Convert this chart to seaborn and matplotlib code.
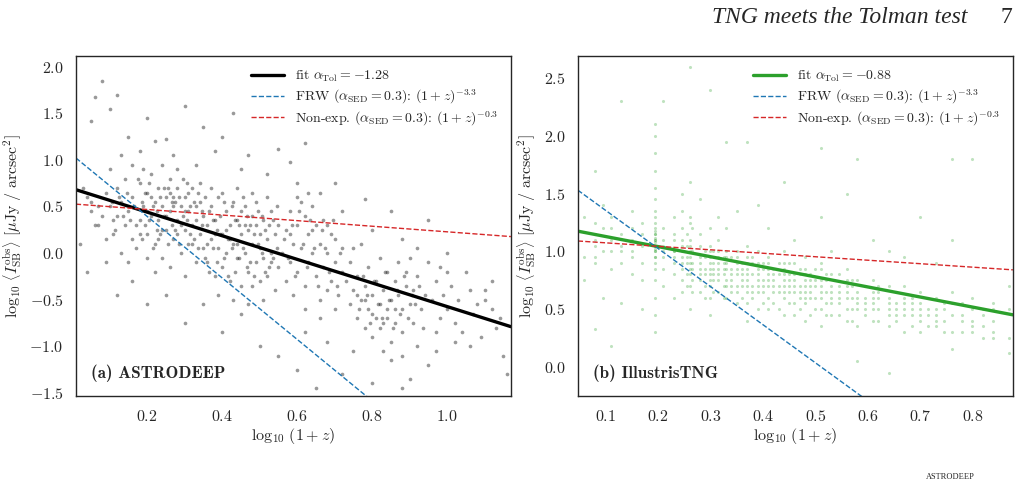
import numpy as np
import pandas as pd
import matplotlib
matplotlib.use("Agg")
import matplotlib.pyplot as plt
import seaborn as sns

# ---- panel (a) ASTRODEEP: points ----
astro_x = [0.08, 0.06, 0.12, 0.10, 0.20, 0.30, 0.43, 0.35, 0.05, 0.15, 0.25, 0.40, 0.55, 0.62, 0.47, 0.58, 0.70, 0.78, 0.85, 0.95,
           0.88, 1.00, 1.05, 1.10, 1.12, 1.15, 1.16, 1.02, 0.95, 0.90, 0.88, 0.80, 0.72, 0.65, 0.60, 0.55, 0.50, 0.40, 0.30, 0.20,
           0.12, 0.04, 0.02, 0.03, 0.05, 0.07, 0.10, 0.13, 0.18, 0.22, 0.27, 0.33, 0.38, 0.45, 0.52, 0.60, 0.66, 0.72, 0.80, 0.92,
           0.98, 1.08, 1.13, 1.06, 0.97, 0.85, 0.75, 0.68, 0.62, 0.45, 0.35, 0.25, 0.16, 0.09,
           0.15, 0.16, 0.17, 0.18, 0.19, 0.20, 0.20, 0.21, 0.21, 0.22, 0.22, 0.23, 0.23, 0.24, 0.24, 0.25, 0.25, 0.26, 0.26, 0.27,
           0.27, 0.28, 0.28, 0.29, 0.29, 0.30, 0.30, 0.31, 0.31, 0.32, 0.32, 0.33, 0.33, 0.34, 0.34, 0.35, 0.35, 0.19, 0.24, 0.28,
           0.17, 0.22, 0.26, 0.30, 0.18, 0.20, 0.23, 0.25, 0.27, 0.29, 0.31, 0.33, 0.21, 0.24, 0.26, 0.28, 0.30, 0.32, 0.34, 0.14,
           0.13, 0.12, 0.11, 0.10, 0.09, 0.08, 0.07, 0.06, 0.12, 0.14, 0.16, 0.13, 0.11, 0.15, 0.18, 0.20, 0.09, 0.05, 0.04, 0.16,
           0.36, 0.36, 0.37, 0.37, 0.38, 0.38, 0.39, 0.39, 0.40, 0.40, 0.41, 0.41, 0.42, 0.42, 0.43, 0.43, 0.44, 0.44, 0.45, 0.45,
           0.46, 0.46, 0.47, 0.47, 0.48, 0.48, 0.49, 0.49, 0.50, 0.50, 0.51, 0.51, 0.52, 0.52, 0.53, 0.53, 0.54, 0.54, 0.55, 0.55,
           0.37, 0.40, 0.44, 0.48, 0.52, 0.39, 0.43, 0.47, 0.51, 0.36, 0.42, 0.46, 0.50, 0.41, 0.45, 0.49, 0.53, 0.38, 0.44, 0.48,
           0.56, 0.57, 0.57, 0.58, 0.58, 0.59, 0.59, 0.60, 0.60, 0.61, 0.61, 0.62, 0.62, 0.63, 0.63, 0.64, 0.64, 0.65, 0.65, 0.66,
           0.66, 0.67, 0.67, 0.68, 0.68, 0.69, 0.69, 0.70, 0.70, 0.71, 0.72, 0.72, 0.60, 0.63, 0.62, 0.66, 0.70, 0.58, 0.64, 0.68,
           0.73, 0.74, 0.74, 0.75, 0.75, 0.76, 0.76, 0.77, 0.77, 0.78, 0.78, 0.79, 0.79, 0.80, 0.80, 0.81, 0.81, 0.82, 0.82, 0.83,
           0.83, 0.84, 0.84, 0.85, 0.85, 0.86, 0.86, 0.87, 0.87, 0.88, 0.88, 0.89, 0.89, 0.90, 0.90, 0.91, 0.91, 0.92, 0.93, 0.94,
           0.95, 0.80, 0.82, 0.84, 0.86, 0.78, 0.76, 0.92, 0.88, 0.83,
           0.96, 0.97, 0.98, 0.99, 1.00, 1.01, 1.02, 1.03, 1.04, 1.06, 1.07, 1.09, 1.10, 1.12, 1.14, 0.97, 1.00,
           0.185, 0.195, 0.205, 0.215, 0.225, 0.235, 0.245, 0.255, 0.265, 0.275, 0.285, 0.295, 0.305, 0.315, 0.325, 0.335, 0.345, 0.355,
           0.185, 0.195, 0.205, 0.215, 0.225, 0.235, 0.245, 0.255, 0.265, 0.275, 0.285, 0.295, 0.305, 0.315, 0.325, 0.335, 0.345, 0.355,
           0.365, 0.375, 0.385, 0.395, 0.405, 0.415, 0.425, 0.435, 0.445, 0.455, 0.465, 0.475, 0.485, 0.495, 0.505, 0.515, 0.525, 0.535, 0.545,
           0.365, 0.375, 0.385, 0.395, 0.405, 0.415, 0.425, 0.435, 0.445, 0.455, 0.465, 0.475, 0.485, 0.495, 0.505, 0.515, 0.525, 0.535, 0.545,
           0.565, 0.575, 0.585, 0.595, 0.605, 0.615, 0.625, 0.635, 0.645, 0.655, 0.665, 0.675, 0.685, 0.695, 0.705, 0.715,
           0.765, 0.775, 0.785, 0.795, 0.805, 0.815, 0.825, 0.835, 0.845, 0.855, 0.865, 0.875, 0.885, 0.895, 0.905, 0.915, 0.925, 0.935,
           0.105, 0.115, 0.125, 0.135, 0.145, 0.155, 0.165, 0.175]
astro_y = [1.85, 1.67, 1.70, 1.55, 1.45, 1.58, 1.50, 1.35, 1.42, 1.25, 1.22, 1.25, 1.12, 1.18, 1.05, 0.98, 0.75, 0.58, 0.45, 0.35,
           0.15, 0.00, -0.20, -0.40, -0.60, -1.10, -1.30, -0.95, -1.20, -1.35, -1.45, -1.40, -1.30, -1.45, -1.25, -1.10, -1.00, -0.85, -0.75, -0.55,
           -0.45, -0.20, 0.10, 0.70, 0.55, 0.30, 0.90, 1.05, 1.10, 1.20, 1.05, 0.95, 1.10, 0.90, 0.85, 0.75, 0.65, 0.45, 0.25, 0.05,
           -0.15, -0.55, -0.80, -1.00, -1.05, -1.15, -1.05, -0.95, -0.85, -0.65, -0.55, -0.45, -0.30, -0.10,
           0.45, 0.60, 0.30, 0.75, 0.50, 0.20, 0.65, 0.40, 0.85, 0.55, 0.10, 0.70, 0.35, 0.50, -0.05, 0.60, 0.25, 0.80, 0.45, 0.15,
           0.60, 0.35, 0.70, 0.50, 0.00, 0.25, 0.60, 0.45, 0.10, 0.70, 0.30, 0.50, -0.10, 0.20, 0.55, 0.40, 0.05, 0.90, 0.95, 0.90,
           0.05, -0.20, -0.15, -0.25, 0.35, 0.45, 0.15, 0.40, 0.50, 0.30, 0.65, 0.35, 0.60, 0.25, 0.65, 0.20, 0.45, 0.10, 0.75, 0.30,
           0.55, 0.40, 0.20, 0.50, 0.65, 0.40, 0.50, 0.30, 0.70, 0.80, 0.15, 0.00, 0.35, -0.10, 0.20, -0.05, 0.15, 0.45, 0.60, 0.95,
           0.30, -0.10, 0.50, 0.15, -0.25, 0.35, 0.60, 0.05, 0.20, -0.15, 0.45, 0.00, 0.30, -0.30, 0.55, 0.10, -0.05, 0.35, 0.20, -0.35,
           0.50, 0.00, 0.25, -0.20, 0.40, 0.10, -0.10, 0.55, 0.20, -0.30, 0.35, -0.05, 0.15, -0.25, 0.45, 0.00, 0.20, -0.40, 0.30, -0.15,
           0.70, 0.65, 0.70, 0.65, 0.60, -0.45, -0.50, -0.55, -0.50, 0.10, 0.15, 0.30, 0.05, 0.25, 0.45, 0.30, -0.10, 0.20, 0.10, -0.35,
           0.00, 0.25, -0.30, 0.45, -0.10, 0.10, -0.45, 0.30, -0.20, 0.55, 0.05, 0.40, -0.35, 0.20, -0.10, 0.50, 0.00, 0.30, -0.25, 0.10,
           -0.50, 0.35, -0.15, 0.00, -0.40, 0.20, -0.30, -0.10, 0.15, -0.45, -0.20, 0.05, 0.60, 0.65, -0.60, -0.70, -0.60, 0.20, 0.25, 0.30,
           -0.30, -0.55, -0.10, -0.40, 0.05, -0.70, -0.25, -0.50, 0.10, -0.35, -0.80, -0.60, -0.15, -0.45, -0.90, -0.30, -0.70, -0.55, -0.05, -0.75,
           -0.40, -0.60, -0.20, -0.95, -0.50, -0.30, -0.75, -0.45, -0.10, -0.60, -0.85, -0.35, -0.20, -0.55, -0.05, -0.40, -0.75, -0.25, -0.60, -0.45,
           -0.10, -0.65, -0.80, -0.70, -0.60, -0.50, -0.45, -1.00, -1.10, -1.05,
           -0.50, -0.30, -0.70, -0.45, -0.60, -0.35, -0.75, -0.50, -0.85, -0.40, -0.65, -0.90, -0.50, -0.30, -0.70, -0.85, -0.20,
           0.55, 0.30, 0.75, 0.50, 0.25, 0.60, 0.40, 0.70, 0.30, 0.55, 0.10, 0.40, 0.75, 0.20, 0.55, 0.05, 0.45, 0.60,
           0.15, 0.65, 0.35, 0.05, 0.45, 0.20, 0.70, 0.10, 0.55, 0.25, 0.60, 0.80, 0.35, 0.50, 0.15, 0.65, 0.30, -0.05,
           0.45, 0.05, 0.25, 0.40, -0.05, 0.15, 0.50, -0.20, 0.30, 0.05, 0.40, -0.10, 0.20, 0.45, 0.00, 0.25, -0.15, 0.35, 0.05,
           -0.20, 0.35, -0.10, 0.20, 0.55, -0.25, 0.05, 0.35, -0.05, 0.60, -0.15, 0.30, -0.25, 0.10, 0.40, -0.20, 0.30, -0.05, 0.50,
           0.15, -0.05, 0.30, -0.25, 0.45, 0.10, -0.15, 0.35, 0.05, -0.35, 0.25, 0.05, -0.20, 0.35, -0.35, 0.00,
           -0.60, -0.25, -0.45, -0.75, -0.30, -0.55, -0.70, -0.20, -0.50, -0.80, -0.40, -0.65, -0.25, -0.70, -0.45, -0.55, -0.35, -0.80,
           0.55, 0.25, 0.60, 0.40, 0.65, 0.35, 0.50, 0.80]

# ---- panel (b) IllustrisTNG: snapshots (x) and the y values seen in each stripe ----
tng_snap_x = [0.058, 0.08, 0.095, 0.11, 0.13, 0.15, 0.17, 0.195, 0.21, 0.23, 0.245, 0.26, 0.28, 0.30, 0.315, 0.33, 0.35,
              0.37, 0.39, 0.41, 0.44, 0.46, 0.48, 0.51, 0.53, 0.56, 0.58, 0.61, 0.64, 0.67, 0.70, 0.73, 0.76, 0.80, 0.84, 0.87,
              0.255, 0.265, 0.29, 0.305, 0.325, 0.34, 0.36, 0.38, 0.40, 0.42, 0.43, 0.45, 0.47, 0.49, 0.50, 0.52, 0.545,
              0.57, 0.595, 0.62, 0.655, 0.685, 0.715, 0.745, 0.78, 0.82]
tng_snap_y = [
    [0.75, 1.30, 0.95],
    [1.05, 1.15, 1.70, 0.95, 1.25, 0.33, 1.10, 0.90],
    [1.00, 0.60, 1.20, 1.40],
    [1.10, 0.85, 1.00, 1.30, 0.18, 1.20],
    [0.90, 1.05, 1.15, 0.55, 2.30, 1.00],
    [1.00, 1.20, 0.95, 1.10, 0.80, 1.35],
    [0.75, 1.05, 1.15, 0.90, 1.25, 0.50],
    [0.30, 0.45, 0.60, 0.75, 0.85, 0.90, 0.95, 1.00, 1.02, 1.05, 1.08, 1.10, 1.12, 1.15, 1.18, 1.20, 1.25,
     1.30, 1.35, 1.45, 1.55, 1.70, 1.85, 2.00, 2.10, 0.95, 1.00, 1.05, 1.10, 1.15],
    [0.95, 1.05, 1.10, 0.85, 1.20, 0.70, 2.30, 1.00],
    [0.90, 1.00, 1.10, 0.80, 1.15, 1.30, 0.60, 1.00, 0.95],
    [0.75, 0.90, 1.00, 1.05, 1.20, 1.35, 1.50, 0.85, 0.95, 1.10, 0.65],
    [0.70, 0.85, 0.95, 1.00, 1.10, 1.25, 1.30, 1.60, 0.80, 0.90, 1.05, 0.50, 2.60],
    [0.65, 0.80, 0.90, 0.95, 1.05, 1.15, 0.75, 0.85, 1.45],
    [0.60, 0.75, 0.85, 0.90, 1.00, 1.05, 1.20, 0.70, 0.80, 0.95, 0.45, 2.40],
    [0.65, 0.80, 0.85, 0.95, 1.00, 1.10, 0.75, 0.90, 1.30],
    [0.60, 0.70, 0.85, 0.90, 1.00, 0.75, 0.95, 1.20, 1.95],
    [0.55, 0.70, 0.80, 0.85, 0.95, 1.00, 0.65, 0.90, 1.35],
    [0.55, 0.65, 0.75, 0.80, 0.90, 0.95, 1.05, 0.70, 0.85, 0.40, 1.95],
    [0.50, 0.65, 0.75, 0.80, 0.90, 1.00, 0.70, 0.85, 1.40],
    [0.50, 0.60, 0.70, 0.80, 0.85, 0.95, 0.75, 0.90, 1.20],
    [0.45, 0.60, 0.70, 0.75, 0.85, 0.90, 1.00, 0.65, 0.80, 1.60],
    [0.45, 0.55, 0.65, 0.75, 0.80, 0.90, 0.70, 1.10],
    [0.40, 0.55, 0.65, 0.70, 0.80, 0.85, 0.95, 0.60, 0.75],
    [0.35, 0.50, 0.60, 0.70, 0.75, 0.85, 0.90, 0.65, 1.90, 1.30],
    [0.45, 0.55, 0.65, 0.70, 0.80, 0.60, 1.00],
    [0.40, 0.50, 0.60, 0.70, 0.75, 0.85, 0.65, 1.50],
    [0.35, 0.50, 0.60, 0.65, 0.75, 0.55, 1.80, 0.05],
    [0.40, 0.50, 0.55, 0.65, 0.75, 0.60, 1.10],
    [0.35, 0.45, 0.55, 0.60, 0.70, 0.50, 1.00, -0.05],
    [0.30, 0.45, 0.50, 0.60, 0.70, 0.55, 0.95],
    [0.30, 0.40, 0.50, 0.55, 0.65, 0.45, 1.30],
    [0.35, 0.45, 0.50, 0.60, 0.40, 0.90],
    [0.15, 0.30, 0.45, 0.55, 0.65, 1.10, 1.80],
    [0.30, 0.40, 0.50, 0.60, 0.35, 1.80],
    [0.25, 0.40, 0.50, 0.55, 0.30],
    [0.12, 0.25, 0.50, 0.70],
    [0.80, 0.95, 1.05, 1.15, 0.70, 0.90],
    [0.75, 0.90, 1.00, 1.20, 0.65, 0.85],
    [0.70, 0.85, 0.95, 1.00, 0.60, 0.80],
    [0.65, 0.80, 0.90, 1.00, 0.75, 0.85],
    [0.70, 0.80, 0.90, 0.95, 0.60, 0.85],
    [0.65, 0.75, 0.85, 0.95, 0.70, 0.80],
    [0.60, 0.70, 0.80, 0.90, 0.75, 0.85],
    [0.60, 0.70, 0.80, 0.90, 0.65, 0.95],
    [0.55, 0.70, 0.75, 0.85, 0.65, 0.90],
    [0.55, 0.65, 0.75, 0.85, 0.70, 0.80],
    [0.50, 0.65, 0.70, 0.80, 0.90],
    [0.55, 0.65, 0.75, 0.80, 0.70, 0.90],
    [0.50, 0.60, 0.70, 0.80, 0.65, 0.85],
    [0.45, 0.60, 0.70, 0.75, 0.80, 0.65],
    [0.50, 0.60, 0.70, 0.85, 0.75],
    [0.45, 0.55, 0.65, 0.75, 0.80],
    [0.45, 0.55, 0.65, 0.70, 0.80, 0.60],
    [0.40, 0.50, 0.60, 0.70, 0.75],
    [0.45, 0.55, 0.60, 0.70, 0.50],
    [0.40, 0.50, 0.60, 0.65, 0.70],
    [0.40, 0.50, 0.55, 0.65, 0.45],
    [0.35, 0.45, 0.55, 0.60, 0.50],
    [0.35, 0.45, 0.50, 0.60],
    [0.30, 0.40, 0.50, 0.55],
    [0.30, 0.40, 0.45, 0.55],
    [0.25, 0.35, 0.45, 0.50],
]

# ---- model lines (end points) ----
a_fit_x, a_fit_y = [0.01, 1.17], [0.68, -0.79]
a_frw_x, a_frw_y = [0.01, 0.80], [1.02, -1.587]
a_non_x, a_non_y = [0.01, 1.17], [0.525, 0.177]
b_fit_x, b_fit_y = [0.047, 0.877], [1.175, 0.45]
b_frw_x, b_frw_y = [0.047, 0.60], [1.53, -0.295]
b_non_x, b_non_y = [0.047, 0.877], [1.09, 0.84]

df_a = pd.DataFrame({"x": astro_x, "y": astro_y})
df_b = pd.DataFrame({"x": tng_snap_x, "y": tng_snap_y}).explode("y")
df_b["y"] = df_b["y"].astype(float)

sns.set_theme(style="white")
plt.rcParams["font.family"] = ["cmr10", "DejaVu Serif"]
plt.rcParams["mathtext.fontset"] = "cm"
plt.rcParams["axes.formatter.use_mathtext"] = True
plt.rcParams["axes.unicode_minus"] = True
plt.rcParams["axes.edgecolor"] = ".15"

fig = plt.figure(figsize=(10.21, 4.83), dpi=100)
ax1 = fig.add_axes([0.0744, 0.180, 0.426, 0.704])
ax2 = fig.add_axes([0.566, 0.180, 0.426, 0.704])

lbl_frw = r"FRW ($\alpha_{\rm SED}=0.3$): $(1+z)^{-3.3}$"
lbl_non = r"Non-exp. ($\alpha_{\rm SED}=0.3$): $(1+z)^{-0.3}$"
ylab = r"$\log_{10}\,\left\langle I_{\rm SB}^{\rm obs}\right\rangle\ [\mu{\rm Jy}\ /\ {\rm arcsec}^2]$"
xlab = r"$\log_{10}\,(1+z)$"

# (a)
sns.scatterplot(data=df_a, x="x", y="y", ax=ax1, color="black", s=7, alpha=0.4, linewidth=0)
sns.lineplot(x=a_fit_x, y=a_fit_y, ax=ax1, color="black", lw=2.4, label=r"fit $\alpha_{\rm Tol}=-1.28$")
sns.lineplot(x=a_frw_x, y=a_frw_y, ax=ax1, color="#1f77b4", lw=1.0, linestyle="--", label=lbl_frw)
sns.lineplot(x=a_non_x, y=a_non_y, ax=ax1, color="#d62728", lw=1.0, linestyle="--", label=lbl_non)
ax1.set_xlim(0.01, 1.17)
ax1.set_ylim(-1.535, 2.115)
ax1.set_xticks([0.2, 0.4, 0.6, 0.8, 1.0])
ax1.set_yticks([-1.5, -1.0, -0.5, 0.0, 0.5, 1.0, 1.5, 2.0])
ax1.text(0.034, 0.068, "(a) ASTRODEEP", transform=ax1.transAxes, fontsize=12.3,
         family=["cmb10", "DejaVu Serif"], va="center")

# (b)
sns.scatterplot(data=df_b, x="x", y="y", ax=ax2, color="#2ca02c", s=5, alpha=0.3, linewidth=0)
sns.lineplot(x=b_fit_x, y=b_fit_y, ax=ax2, color="#2ca02c", lw=2.4, label=r"fit $\alpha_{\rm Tol}=-0.88$")
sns.lineplot(x=b_frw_x, y=b_frw_y, ax=ax2, color="#1f77b4", lw=1.0, linestyle="--", label=lbl_frw)
sns.lineplot(x=b_non_x, y=b_non_y, ax=ax2, color="#d62728", lw=1.0, linestyle="--", label=lbl_non)
ax2.set_xlim(0.047, 0.877)
ax2.set_ylim(-0.254, 2.693)
ax2.set_xticks([0.1, 0.2, 0.3, 0.4, 0.5, 0.6, 0.7, 0.8])
ax2.set_yticks([0.0, 0.5, 1.0, 1.5, 2.0, 2.5])
ax2.text(0.034, 0.068, "(b) IllustrisTNG", transform=ax2.transAxes, fontsize=12.3,
         family=["cmb10", "DejaVu Serif"], va="center")

for ax in (ax1, ax2):
    ax.set_xlabel(xlab, fontsize=11.5, labelpad=2)
    ax.set_ylabel(ylab, fontsize=11.5, labelpad=4)
    ax.tick_params(labelsize=11.5, pad=3)
    ax.legend(loc="upper right", frameon=False, fontsize=10, handlelength=2.4, labelspacing=0.25)
    for sp in ax.spines.values():
        sp.set_linewidth(1.0)

fig.text(967 / 1021, 1 - 23 / 483, "TNG meets the Tolman test", ha="right", va="baseline",
         fontsize=17, family="Liberation Serif", style="italic")
fig.text(1012 / 1021, 1 - 23 / 483, "7", ha="right", va="baseline", fontsize=17, family="Liberation Serif")
fig.text(950 / 1021, 2 / 483, "ASTRODEEP", ha="center", va="bottom", fontsize=6, family="Liberation Serif")

fig.savefig("out.png", dpi=100)
